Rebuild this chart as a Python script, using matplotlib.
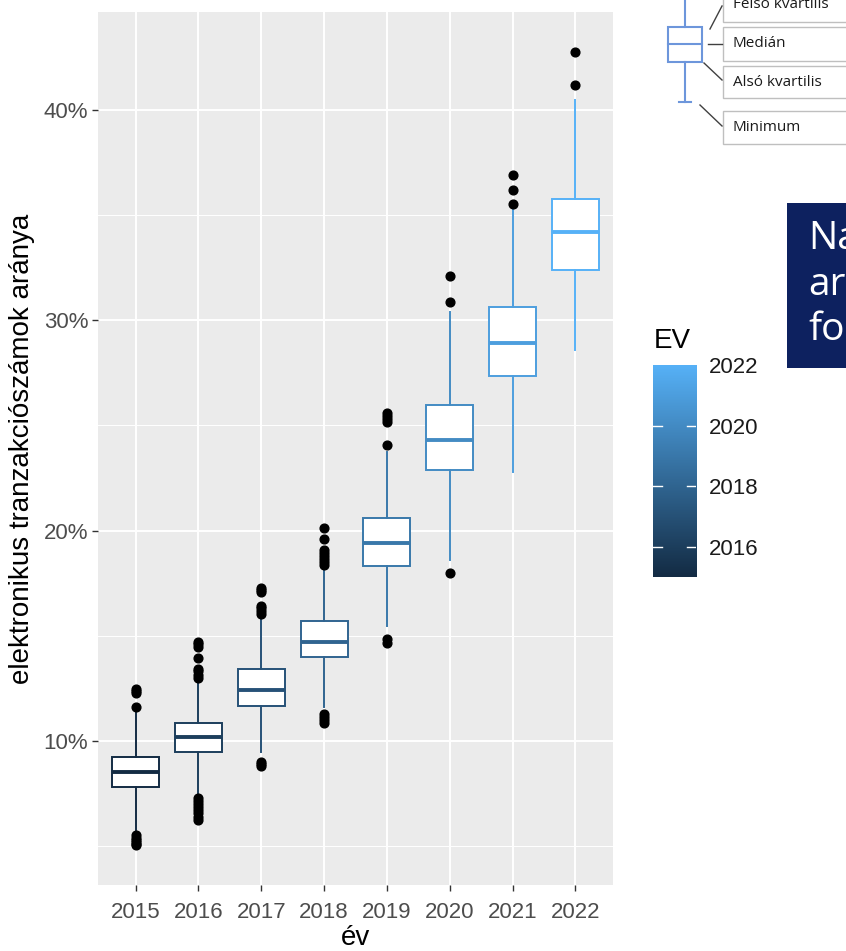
import numpy as np
import matplotlib
matplotlib.use('Agg')
import matplotlib.pyplot as plt
from matplotlib.colors import LinearSegmentedColormap, Normalize
from matplotlib.patches import Rectangle
from matplotlib.ticker import FixedLocator, FuncFormatter

plt.rcParams['font.family'] = ['Liberation Sans', 'DejaVu Sans']

# Évek és a dobozábrák statisztikái (%)
ev = [2015, 2016, 2017, 2018, 2019, 2020, 2021, 2022]
also_kvartilis = [7.82, 9.48, 11.66, 14.00, 18.31, 22.90, 27.37, 32.39]
median = [8.50, 10.16, 12.41, 14.72, 19.42, 24.29, 28.94, 34.20]
felso_kvartilis = [9.21, 10.87, 13.44, 15.70, 20.60, 25.98, 30.65, 35.76]
bajusz_also = [5.75, 7.45, 9.45, 11.60, 15.46, 18.62, 22.80, 28.59]
bajusz_felso = [11.35, 12.85, 15.90, 18.20, 23.76, 30.38, 35.30, 40.46]
kiugro = [
    [11.6, 12.28, 12.38, 12.45, 5.5, 5.4, 5.3, 5.2, 5.1, 5.03],
    [13.0, 13.15, 13.3, 13.43, 13.95, 14.47, 14.6, 14.71,
     7.3, 7.15, 7.0, 6.85, 6.7, 6.55, 6.4, 6.25],
    [16.04, 16.18, 16.3, 16.42, 17.08, 17.18, 17.27, 8.98, 8.88, 8.78],
    [18.36, 18.5, 18.65, 18.8, 18.95, 19.07, 19.62, 20.14, 11.3, 11.15, 11.0, 10.83],
    [24.08, 25.15, 25.3, 25.45, 25.58, 14.85, 14.65],
    [30.88, 32.1, 17.96],
    [35.52, 36.22, 36.93],
    [41.2, 42.78],
]

W, H = 846, 951
fig = plt.figure(figsize=(W / 100, H / 100), dpi=100)


def px_box(x0, y0, x1, y1):
    # pixel (bal felső sarok) -> ábra koordináta
    return [x0 / W, 1 - y1 / H, (x1 - x0) / W, (y1 - y0) / H]


cmap = LinearSegmentedColormap.from_list('gg', ['#132B43', '#56B1F7'])
norm = Normalize(2015, 2022)

ax = fig.add_axes(px_box(98, 12, 613, 885))
ax.set_facecolor('#EBEBEB')
ax.set_axisbelow(True)
for s in ax.spines.values():
    s.set_visible(False)

stats = []
for i in range(len(ev)):
    stats.append(dict(med=median[i], q1=also_kvartilis[i], q3=felso_kvartilis[i],
                      whislo=bajusz_also[i], whishi=bajusz_felso[i], fliers=kiugro[i]))

pos = np.arange(len(ev))
bp = ax.bxp(stats, positions=pos, widths=0.75, patch_artist=True, showcaps=False,
            boxprops=dict(facecolor='white', linewidth=1.4),
            medianprops=dict(linewidth=2.8, solid_capstyle='butt'),
            whiskerprops=dict(linewidth=1.4),
            flierprops=dict(marker='o', markerfacecolor='black', markeredgecolor='black',
                            markersize=6.3))
for i, y in enumerate(ev):
    c = cmap(norm(y))
    bp['boxes'][i].set_edgecolor(c)
    bp['medians'][i].set_color(c)
    bp['whiskers'][2 * i].set_color(c)
    bp['whiskers'][2 * i + 1].set_color(c)

osszes = [v for k in kiugro for v in k] + bajusz_also + bajusz_felso
lo, hi = min(osszes), max(osszes)
ax.set_ylim(lo - 0.05 * (hi - lo), hi + 0.05 * (hi - lo))
ax.set_xlim(-0.6, len(ev) - 0.4)

ax.set_xticks(pos)
ax.set_xticklabels([str(y) for y in ev])
ax.yaxis.set_major_locator(FixedLocator([10, 20, 30, 40]))
ax.yaxis.set_minor_locator(FixedLocator([5, 15, 25, 35]))
ax.yaxis.set_major_formatter(FuncFormatter(lambda v, p: f'{v:.0f}%'))
ax.grid(which='major', color='white', linewidth=1.4)
ax.grid(which='minor', axis='y', color='white', linewidth=0.7)
ax.tick_params(which='major', length=4, width=1, color='#333333',
               labelsize=16, labelcolor='#4D4D4D', pad=3)
ax.tick_params(axis='x', pad=8)
ax.tick_params(which='minor', length=0)
ax.set_xlabel('év', fontsize=20, labelpad=2)
ax.set_ylabel('elektronikus tranzakciószámok aránya', fontsize=20, labelpad=6)

# színskála jelmagyarázat
cax = fig.add_axes(px_box(653, 365, 696, 577))
cax.imshow(np.linspace(2015, 2022, 256)[:, None], cmap=cmap, norm=norm, aspect='auto',
           extent=[0, 1, 2015, 2022], origin='lower')
for t in [2016, 2018, 2020]:
    cax.plot([0, 0.2], [t, t], color='white', lw=1)
    cax.plot([0.8, 1], [t, t], color='white', lw=1)
cax.set_xlim(0, 1)
cax.set_ylim(2015, 2022)
cax.set_xticks([])
cax.yaxis.tick_right()
cax.set_yticks([2016, 2018, 2020, 2022])
cax.tick_params(length=0, labelsize=16, labelcolor='#1A1A1A', pad=9)
for s in cax.spines.values():
    s.set_visible(False)
fig.text(654 / W, 1 - 348 / H, 'EV', fontsize=20, va='baseline', ha='left')

# jobb felső magyarázó ábra és szövegdoboz
ov = fig.add_axes([0, 0, 1, 1])
ov.set_xlim(0, W)
ov.set_ylim(H, 0)
ov.axis('off')

kek = '#6D96DB'
ov.plot([685, 685], [-5, 26.5], color=kek, lw=1.5)
ov.plot([685, 685], [61.5, 102], color=kek, lw=1.5)
ov.plot([679, 691], [102, 102], color=kek, lw=1.5)
ov.add_patch(Rectangle((668, 26.5), 34, 35, facecolor='white', edgecolor=kek, lw=1.5))
ov.plot([668, 702], [43.5, 43.5], color=kek, lw=1.5)

cimkek = ['Felső kvartilis', 'Medián', 'Alsó kvartilis', 'Minimum']
dobozok = [(-10, 21.7), (26.7, 61), (65.7, 98.3), (110.7, 144.3)]
for szoveg, (y0, y1) in zip(cimkek, dobozok):
    ov.add_patch(Rectangle((722.7, y0), 150, y1 - y0, facecolor='white',
                           edgecolor='#BFBFBF', lw=1))
    ov.text(733, (y0 + y1) / 2 if y0 > 0 else 5, szoveg, fontsize=11, family='Open Sans',
            va='center', ha='left', color='#1A1A1A')
vezeto = [((710, 29), (722, 6)), ((708, 43.5), (722, 43.5)),
          ((704, 63), (722, 80)), ((700, 105), (722, 126))]
for (xa, ya), (xb, yb) in vezeto:
    ov.plot([xa, xb], [ya, yb], color='#404040', lw=1)

ov.add_patch(Rectangle((787, 203), 100, 165, facecolor='#0D215F', edgecolor='none'))
for szoveg, yb in zip(['Na', 'ara', 'fol'], [249, 295, 340]):
    ov.text(808, yb, szoveg, fontsize=28, family='Open Sans', color='white',
            va='baseline', ha='left')

fig.savefig('out.png', dpi=100)
